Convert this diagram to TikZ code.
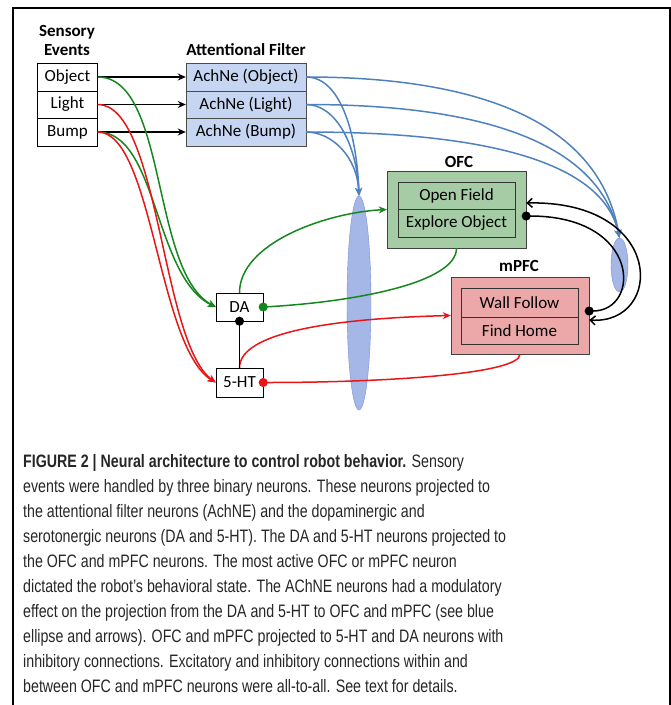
\documentclass[tikz,border=0pt]{standalone}
\usepackage{fontspec}
\setmainfont{Carlito}
\newfontfamily\capfont[FakeStretch=0.79]{Liberation Sans}
\usetikzlibrary{arrows.meta,shapes.geometric}
\definecolor{grn}{RGB}{20,135,30}
\definecolor{rd}{RGB}{232,22,22}
\definecolor{blu}{RGB}{79,129,189}
\definecolor{filterfill}{RGB}{198,213,241}
\definecolor{ofcfill}{RGB}{165,204,165}
\definecolor{mpfcfill}{RGB}{236,168,168}
\definecolor{ellfill}{RGB}{164,183,231}
\definecolor{ellline}{RGB}{125,145,210}

\begin{document}
\begin{tikzpicture}[x=1pt,y=-1pt,>={Stealth[length=8pt,width=7pt]},
  txt/.style={font=\fontsize{17}{19}\selectfont},
  hdr/.style={font=\bfseries\fontsize{17}{19}\selectfont,align=center},
  box/.style={draw,fill=white,txt,inner sep=0pt,minimum width=60pt,minimum height=27.5pt},
  unit/.style={draw=black!80,txt,inner sep=0pt,minimum width=117pt},
  dot/.style={-{Circle[length=9pt]},shorten >=-4.5pt},
  line/.style={line width=1.5pt}]
\useasboundingbox (0,0) rectangle (671,705);
\draw[line width=2.5pt] (13,705) -- (13,8) -- (670,8) -- (670,705);

\node[ellipse,draw=ellline,fill=ellfill,inner sep=0pt,minimum width=24pt,minimum height=214pt] (bigell) at (359,303) {};
\node[ellipse,draw=ellline,fill=ellfill,inner sep=0pt,minimum width=17pt,minimum height=54pt] (smell) at (619.5,265) {};

\node[hdr,anchor=base] (lsens) at (67,55) {Sensory\\Events};
\node[hdr,anchor=base] (lattn) at (246,55) {Attentional Filter};
\node[box] (obj) at (67.5,77) {Object};
\node[box] (lig) at (67.5,104.5) {Light};
\node[box] (bmp) at (67.5,132) {Bump};
\node[box,fill=filterfill,draw=black!70,minimum width=120pt] (fobj) at (246,77) {AchNe (Object)};
\node[box,fill=filterfill,draw=black!70,minimum width=120pt] (flig) at (246,104.5) {AchNe (Light)};
\node[box,fill=filterfill,draw=black!70,minimum width=120pt] (fbmp) at (246,132) {AchNe (Bump)};

\node[hdr,anchor=base] (lofc) at (459,167) {OFC};
\node[draw=black!75,fill=ofcfill,minimum width=139pt,minimum height=77pt] (ofc) at (456.5,209.5) {};
\node[unit,minimum height=27pt] (opf) at (456.5,195.5) {Open Field};
\node[unit,minimum height=28pt] (exo) at (456.5,223) {Explore Object};

\node[hdr,anchor=base] (lmpfc) at (519,271) {mPFC};
\node[draw=black!75,fill=mpfcfill,minimum width=138pt,minimum height=77pt] (mpfc) at (520,315.5) {};
\node[unit,minimum height=29pt] (waf) at (519.5,302.5) {Wall Follow};
\node[unit,minimum height=27pt] (fhm) at (519.5,330.5) {Find Home};

\node[box,minimum width=47pt,minimum height=28pt] (da) at (239.5,307) {DA};
\node[box,minimum width=47pt,minimum height=29pt] (ht) at (239.5,382.5) {5-HT};

\draw[->,line] (obj.east) -- (fobj.west);
\draw[->,line] (lig.east) -- (flig.west);
\draw[->,line] (bmp.east) -- (fbmp.west);

\draw[->,line,grn] (obj.east) .. controls +(70,0) and +(-65,-35) .. (da.west);
\draw[->,line,grn] (bmp.east) .. controls +(60,0) and +(-62,-30) .. (da.west);
\draw[->,line,rd] (lig.east) .. controls +(62,0) and +(-55,-40) .. (ht.west);
\draw[->,line,rd] (bmp.east) .. controls +(55,0) and +(-58,-35) .. (ht.west);

\draw[->,line,blu] (fobj.east) .. controls +(35,0) and +(-2,-60) .. (bigell.north);
\draw[->,line,blu] (flig.east) .. controls +(30,0) and +(-2,-50) .. (bigell.north);
\draw[->,line,blu] (fbmp.east) .. controls +(25,0) and +(-2,-40) .. (bigell.north);
\draw[->,line,blu] (fobj.east) .. controls +(175,0) and +(-20,-115) .. (smell.north);
\draw[->,line,blu] (flig.east) .. controls +(165,0) and +(-22,-100) .. (smell.north);
\draw[->,line,blu] (fbmp.east) .. controls +(150,0) and +(-18,-85) .. (smell.north);

\draw[->,line,grn] (da.north) .. controls +(0,-50) and +(-60,3) .. (ofc.west);
\draw[dot,line,grn] (ofc.south) .. controls +(0,35) and +(90,-5) .. (da.east);
\draw[->,line,rd] (ht.north) .. controls +(0,-35) and +(-120,3) .. (mpfc.west);
\draw[dot,line,rd] (mpfc.south) .. controls +(0,20) and +(120,0) .. (ht.east);
\draw[dot,line] (ht.north) -- (da.south);

\draw[{Straight Barb[length=5pt,width=9pt]}-{Straight Barb[length=5pt,width=9pt]},line] ([yshift=6.5pt]ofc.east) .. controls +(140,-3) and +(75,5) .. ([yshift=-4.5pt]mpfc.east);
\draw[{Circle[length=9pt]}-{Circle[length=9pt]},shorten <=-4.5pt,shorten >=-4.5pt,line] ([yshift=-6.5pt]ofc.east) .. controls +(115,0) and +(52,0) .. ([yshift=4.5pt]mpfc.east);

\node[anchor=base west,align=left,inner sep=0pt,text=black!85,font=\capfont\fontsize{18}{25}\selectfont] (cap) at (23,692)
{\textbf{FIGURE 2 | Neural architecture to control robot behavior.} Sensory\\
events were handled by three binary neurons. These neurons projected to\\
the attentional filter neurons (AchNE) and the dopaminergic and\\
serotonergic neurons (DA and 5-HT). The DA and 5-HT neurons projected to\\
the OFC and mPFC neurons. The most active OFC or mPFC neuron\\
dictated the robot’s behavioral state. The AChNE neurons had a modulatory\\
effect on the projection from the DA and 5-HT to OFC and mPFC (see blue\\
ellipse and arrows). OFC and mPFC projected to 5-HT and DA neurons with\\
inhibitory connections. Excitatory and inhibitory connections within and\\
between OFC and mPFC neurons were all-to-all. See text for details.};
\end{tikzpicture}
\end{document}
